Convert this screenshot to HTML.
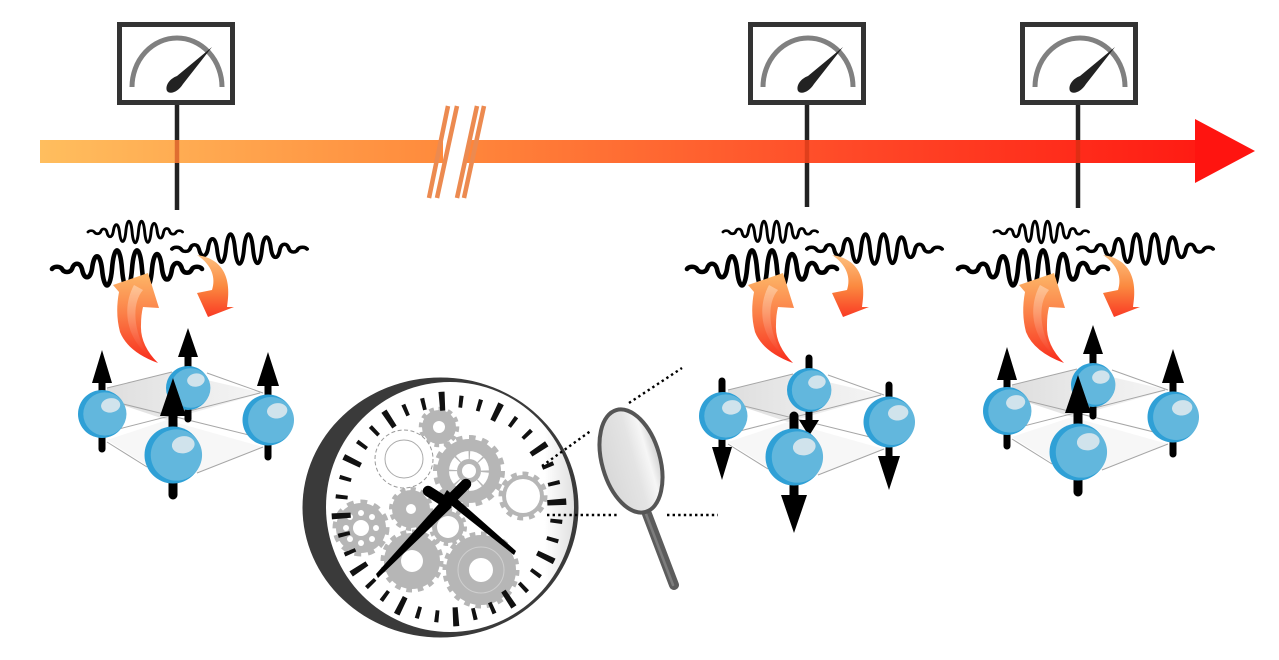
<!DOCTYPE html>
<html><head><meta charset="utf-8"><style>html,body{margin:0;padding:0;background:#fff}svg{display:block}</style></head>
<body>
<svg width="1279" height="660" viewBox="0 0 1279 660" xmlns="http://www.w3.org/2000/svg">
<defs>
<linearGradient id="bar" gradientUnits="userSpaceOnUse" x1="40" y1="0" x2="1255" y2="0">
<stop offset="0" stop-color="#ffbe5e"/><stop offset=".33" stop-color="#ff8a3c"/><stop offset=".66" stop-color="#ff4a28"/><stop offset="1" stop-color="#ff1410"/></linearGradient>
<linearGradient id="au" x1="0" y1="0" x2="0" y2="1"><stop offset="0" stop-color="#fdb768"/><stop offset=".45" stop-color="#fb8048"/><stop offset="1" stop-color="#f82c1c"/></linearGradient>
<linearGradient id="ad" x1="0" y1="0" x2="0" y2="1"><stop offset="0" stop-color="#fcc080"/><stop offset=".5" stop-color="#fb8a40"/><stop offset="1" stop-color="#f93a24"/></linearGradient>
<linearGradient id="hl" x1="0" y1="0" x2="0" y2="1"><stop offset="0" stop-color="#fff" stop-opacity=".35"/><stop offset="1" stop-color="#fff" stop-opacity="0"/></linearGradient>
<linearGradient id="lens" x1="0" y1="0" x2="1" y2="0"><stop offset="0" stop-color="#d8d8d8"/><stop offset=".55" stop-color="#e4e4e4"/><stop offset=".8" stop-color="#f6f6f6"/><stop offset="1" stop-color="#cfcfcf"/></linearGradient>
<linearGradient id="rim" x1="0" y1="0" x2="1" y2="0"><stop offset="0" stop-color="#fff"/><stop offset=".88" stop-color="#fff"/><stop offset="1" stop-color="#e0e0e0"/></linearGradient>
<linearGradient id="pa" x1="0" y1="0" x2="1" y2="0"><stop offset="0" stop-color="#dedede"/><stop offset=".55" stop-color="#ececec"/><stop offset="1" stop-color="#f5f5f5"/></linearGradient>
<path id="wv" fill="none" stroke="#000" stroke-linecap="round" d="M0 0c2 -3 8 -3 10 0c2 4 8 4 10 0c2 -7 8 -7 10 0c2 11 8 11 10 0c2 -17 8 -17 10 0c2 22 8 22 10 0c2 -25 8 -25 10 0c2 25 8 25 10 0c2 -25 8 -25 10 0c2 24 8 24 10 0c2 -20 8 -20 10 0c2 14 8 14 10 0c2 -8 8 -8 10 0c2 5 8 5 10 0c2 -3 8 -3 10 0"/>
<g id="fx">
<use href="#wv" transform="translate(88 232) scale(.63 .58)" stroke-width="4.6"/>
<use href="#wv" transform="translate(172 249) scale(.9 .8)" stroke-width="4.4"/>
<use href="#wv" transform="translate(52 269)" stroke-width="4.6"/>
<path fill="url(#au)" d="M148 273L113 285L119 292Q115 313 120 332Q128 352 158 363Q140 345 141 325Q141 315 143 307L159 308Z"/>
<path fill="url(#hl)" d="M134 285C123 305 124 335 148 355C135 335 130 305 143 290Z"/>
<path fill="url(#ad)" d="M197 255C218 258 233 272 227 307L234 307L208 317L197 293L212 290C216 278 212 265 197 255Z"/>
</g>
<g id="meter">
<rect x="119.5" y="24.5" width="113" height="78" fill="#fff" stroke="#333" stroke-width="5"/>
<path d="M132 87A45 49 0 0 1 222 87" fill="none" stroke="#808080" stroke-width="5"/>
<path d="M212 47L183 84C178 92 170 95 167 91C165 86 169 79 177 76Z" fill="#222"/>
</g>
<g id="sp"><circle r="25" fill="#2fa0d6"/><circle cx="3" cy="0" r="22.5" fill="#62b7dd"/><ellipse cx="9" cy="-9" rx="10" ry="7.5" fill="#d0e3ec" transform="rotate(-8 9 -9)"/></g>
<g id="pl">
<polygon points="107,388 172,372 263,393 167,420 107,400" fill="url(#pa)"/>
<polygon points="107,440 167,420 263,447 173,482" fill="#f7f7f7"/>
<g stroke="#a6a6a6" stroke-width="1" fill="none">
<line x1="107" y1="388" x2="172" y2="372"/><line x1="207" y1="373" x2="263" y2="393"/>
<line x1="107" y1="400" x2="257" y2="437"/><line x1="107" y1="432" x2="260" y2="393"/>
<line x1="107" y1="442" x2="147" y2="467"/><line x1="197" y1="473" x2="263" y2="447"/>
</g>
</g>
<use id="sb" href="#sp" transform="translate(188 388) scale(.88)"/>
<use id="sl" href="#sp" transform="translate(102 414) scale(.96)"/>
<use id="sr" href="#sp" transform="translate(268 420) scale(1.02)"/>
<use id="sf" href="#sp" transform="translate(173 455) scale(1.14)"/>
<g id="latUp">
<use href="#pl"/>
<path d="M184.5 419V357H178L188 328L198 357H191.5V419A3.5 3.5 0 0 1 184.5 419Z"/><use href="#sb"/>
<path d="M98.5 449V383H92L102 350L112 383H105.5V449A3.5 3.5 0 0 1 98.5 449Z"/><use href="#sl"/>
<path d="M264.5 457V386H257L268 352L279 386H271.5V457A3.5 3.5 0 0 1 264.5 457Z"/><use href="#sr"/>
<path d="M168.5 495V416H160L173 378L186 416H177.5V495A4.5 4.5 0 0 1 168.5 495Z"/><use href="#sf"/>
</g>
</defs>

<!-- timeline -->
<rect x="40" y="140" width="403" height="23" fill="url(#bar)"/>
<rect x="467" y="140" width="728" height="23" fill="url(#bar)"/>
<polygon points="1195,119 1255,151 1195,183" fill="#ff1410"/>
<polygon points="437,198 457,106 477,106 457,198" fill="#fff"/>
<g stroke="#ec8a50" stroke-width="4.5">
<line x1="448" y1="106" x2="429" y2="198"/><line x1="457" y1="106" x2="437" y2="198"/>
<line x1="477" y1="106" x2="457" y2="198"/><line x1="484" y1="106" x2="464" y2="198"/>
</g>

<!-- stems and meters -->
<g fill="none" stroke="#222" stroke-width="4.5">
<path d="M177 104V140M177 163V210"/><path d="M807 104V140M807 163V207"/><path d="M1078 104V140M1078 163V208"/>
</g>
<g stroke="#c23010" stroke-width="4.5" opacity=".5"><path d="M177 140V163M807 140V163M1078 140V163"/></g>
<use href="#meter"/>
<use href="#meter" transform="translate(631 0)"/>
<use href="#meter" transform="translate(903 0)"/>

<!-- lattices -->
<use href="#latUp"/>
<g transform="translate(621 2)">
<use href="#pl"/>
<path d="M184.5 356V418H178L188 434L198 418H191.5V356A3.5 3.5 0 0 0 184.5 356Z"/><use href="#sb"/>
<path d="M97.5 379V445H91L101 478L111 445H104.5V379A3.5 3.5 0 0 0 97.5 379Z"/><use href="#sl"/>
<path d="M264.5 383V454H257L268 488L279 454H271.5V383A3.5 3.5 0 0 0 264.5 383Z"/><use href="#sr"/>
<path d="M168.5 414V493H160L173 531L186 493H177.5V414A4.5 4.5 0 0 0 168.5 414Z"/><use href="#sf"/>
</g>
<use href="#latUp" transform="translate(905 -3)"/>

<!-- waves and curved arrows -->
<use href="#fx"/>
<use href="#fx" transform="translate(635 0)"/>
<use href="#fx" transform="translate(906 0)"/>

<!-- clock -->
<ellipse cx="440.5" cy="507.5" rx="138" ry="130" fill="#3a3a3a"/>
<ellipse cx="450" cy="507" rx="124" ry="125" fill="url(#rim)"/>

<!-- gears -->
<g fill="#b6b6b6" stroke="none">
<circle cx="439" cy="427" r="17"/><circle cx="439" cy="427" r="18" fill="none" stroke="#b6b6b6" stroke-width="4.5" pathLength="360" stroke-dasharray="15 15"/>
<circle cx="469" cy="471" r="32"/><circle cx="469" cy="471" r="33" fill="none" stroke="#b6b6b6" stroke-width="6" pathLength="360" stroke-dasharray="11.25 11.25"/>
<circle cx="523" cy="496" r="21"/><circle cx="523" cy="496" r="22" fill="none" stroke="#b6b6b6" stroke-width="5" pathLength="360" stroke-dasharray="15 15"/>
<circle cx="411" cy="509" r="19"/><circle cx="411" cy="509" r="20" fill="none" stroke="#b6b6b6" stroke-width="4" pathLength="360" stroke-dasharray="15 15"/>
<circle cx="361" cy="528" r="25"/><circle cx="361" cy="528" r="26" fill="none" stroke="#b6b6b6" stroke-width="5" pathLength="360" stroke-dasharray="15 15"/>
<circle cx="448" cy="527" r="16"/><circle cx="448" cy="527" r="17" fill="none" stroke="#b6b6b6" stroke-width="4" pathLength="360" stroke-dasharray="15 15"/>
</g>
<g fill="#fff">
<circle cx="439" cy="427" r="6"/>
<circle cx="469" cy="471" r="20"/><circle cx="469" cy="471" r="12" fill="#b6b6b6"/><circle cx="469" cy="471" r="7"/>
<circle cx="523" cy="496" r="17"/>
<circle cx="411" cy="509" r="5"/>
<circle cx="448" cy="527" r="11"/>
<circle cx="361" cy="528" r="8"/>
<circle cx="376" cy="528" r="3"/><circle cx="346" cy="528" r="3"/><circle cx="361" cy="513" r="3"/><circle cx="361" cy="543" r="3"/><circle cx="372" cy="517" r="3"/><circle cx="350" cy="517" r="3"/><circle cx="372" cy="539" r="3"/><circle cx="350" cy="539" r="3"/>
</g>
<circle cx="469" cy="471" r="16" fill="none" stroke="#b6b6b6" stroke-width="8" pathLength="360" stroke-dasharray="5 40"/>
<g fill="#b6b6b6" stroke="none">
<circle cx="412" cy="561" r="28"/><circle cx="412" cy="561" r="29" fill="none" stroke="#b6b6b6" stroke-width="5" pathLength="360" stroke-dasharray="11.25 11.25"/>
<circle cx="481" cy="570" r="35"/><circle cx="481" cy="570" r="36" fill="none" stroke="#b6b6b6" stroke-width="5" pathLength="360" stroke-dasharray="9 9"/>
</g>
<circle cx="412" cy="561" r="11" fill="#fff"/>
<circle cx="481" cy="570" r="12" fill="#fff"/>
<circle cx="481" cy="570" r="23" fill="none" stroke="#cfcfcf" stroke-width="1"/>
<circle cx="404" cy="459" r="29" fill="#fff" stroke="#999" stroke-width="1" stroke-dasharray="4 2.5"/>
<circle cx="404" cy="459" r="19" fill="#fff" stroke="#aaa" stroke-width="1"/>

<!-- ticks -->
<g fill="none" stroke="#111" transform="rotate(-3.5 449 509)">
<circle cx="449" cy="509" r="108" stroke-width="12" pathLength="360" stroke-dasharray="2.1 7.9" stroke-dashoffset="1.05"/>
<circle cx="449" cy="509" r="108" stroke-width="19" pathLength="360" stroke-dasharray="3 27" stroke-dashoffset="1.5"/>
</g>

<!-- hands -->
<polygon points="376,574 378,578 452,507 444,498"/>
<line x1="447" y1="503" x2="466" y2="484" stroke="#000" stroke-width="10.5" stroke-linecap="round"/>
<polygon points="442,498 447,490 516,551 514,555"/>
<line x1="428" y1="491" x2="447" y2="503" stroke="#000" stroke-width="10.5" stroke-linecap="round"/>

<!-- dotted lines -->
<g stroke="#000" stroke-width="2.4" stroke-dasharray="2.4 3.2" fill="none">
<line x1="542" y1="466" x2="592" y2="430"/><line x1="629" y1="403" x2="682" y2="368"/>
<line x1="547" y1="515" x2="617" y2="515"/><line x1="667" y1="515" x2="718" y2="515"/>
</g>

<!-- magnifier -->
<line x1="647" y1="514" x2="674" y2="585" stroke="#5c5c5c" stroke-width="10" stroke-linecap="round"/>
<line x1="646" y1="514" x2="673" y2="585" stroke="#7d7d7d" stroke-width="2.5" stroke-linecap="round"/>
<ellipse cx="631" cy="461" rx="29" ry="53" fill="url(#lens)" stroke="#555" stroke-width="4" transform="rotate(-16 631 461)"/>
</svg>
</body></html>
